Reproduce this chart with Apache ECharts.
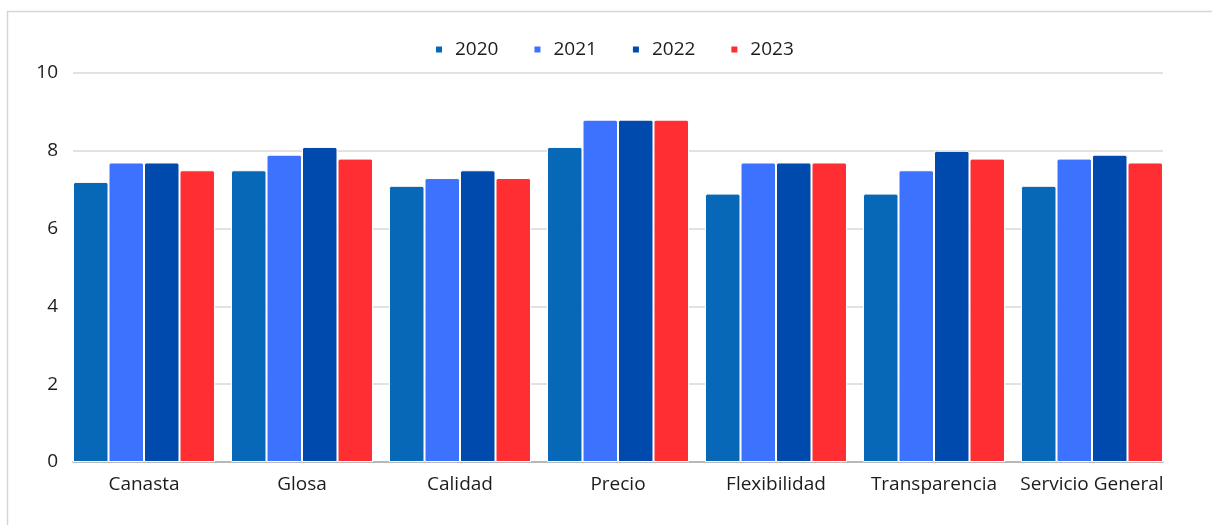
<!DOCTYPE html>
<html>
<head>
<meta charset="utf-8">
<script src="https://cdn.jsdelivr.net/npm/echarts@6/dist/echarts.min.js"></script>
<style>
html,body{margin:0;padding:0;background:#fff;}
#chart{width:1212px;height:525px;}
</style>
</head>
<body>
<div id="chart"></div>
<script>
const categories = ['Canasta','Glosa','Calidad','Precio','Flexibilidad','Transparencia','Servicio General'];
const years = ['2020','2021','2022','2023'];
const v2020 = [7.2, 7.5, 7.1, 8.1, 6.9, 6.9, 7.1];
const v2021 = [7.7, 7.9, 7.3, 8.8, 7.7, 7.5, 7.8];
const v2022 = [7.7, 8.1, 7.5, 8.8, 7.7, 8.0, 7.9];
const v2023 = [7.5, 7.8, 7.3, 8.8, 7.7, 7.8, 7.7];
const yTicks = [0, 2, 4, 6, 8, 10];
const colors = ['#0868b8', '#3d72fe', '#004aad', '#ff2e33'];

const FONT = "'Open Sans', 'Noto Sans', sans-serif";
const TXT = '#1c1c1c';
const seriesValues = [v2020, v2021, v2022, v2023];

const chart = echarts.init(document.getElementById('chart'), null, {renderer: 'canvas'});
chart.setOption({
  animation: false,
  backgroundColor: '#fff',
  graphic: [{
    type: 'polyline',
    shape: { points: [[7.5, 600], [7.5, 11.5], [1300, 11.5]] },
    style: { stroke: '#d6d6d6', lineWidth: 1.5, fill: null },
    silent: true
  }],
  legend: {
    left: 429,
    top: 35,
    itemWidth: 8,
    itemHeight: 8,
    itemGap: 34,
    icon: 'rect',
    data: years,
    textStyle: { fontFamily: FONT, fontSize: 19, color: TXT, padding: [0, 0, 0, 7] }
  },
  grid: [
    { left: 73, right: 49, top: 73, bottom: 63 },
    { left: 65, right: 41, top: 73, bottom: 63 }
  ],
  xAxis: [
    { gridIndex: 0, type: 'value', min: 0, max: 1,
      axisLine: { show: true, lineStyle: { color: '#aaaaaa', width: 1.5 } },
      axisTick: { show: false }, axisLabel: { show: false }, splitLine: { show: false } },
    { gridIndex: 1, type: 'category', data: categories,
      axisLine: { show: false }, axisTick: { show: false },
      axisLabel: { fontFamily: FONT, fontSize: 19, color: TXT, margin: 13, interval: 0 } }
  ],
  yAxis: [
    { gridIndex: 0, type: 'value', min: 0, max: 10, interval: 2,
      axisLine: { show: false }, axisTick: { show: false },
      axisLabel: { fontFamily: FONT, fontSize: 19, color: TXT, margin: 15,
        formatter: v => yTicks.includes(v) ? String(v) : '' },
      splitLine: { lineStyle: { color: '#d9d9d9', width: 1.5 } } },
    { gridIndex: 1, type: 'value', min: 0, max: 10, show: false, splitLine: { show: false } }
  ],
  series: years.map((y, i) => ({
    name: y,
    type: 'bar',
    xAxisIndex: 1,
    yAxisIndex: 1,
    data: seriesValues[i],
    barWidth: 35.5,
    barGap: '0%',
    itemStyle: { color: colors[i], borderColor: '#ffffff', borderWidth: 1, borderRadius: [2, 2, 0, 0] }
  }))
});
</script>
</body>
</html>
